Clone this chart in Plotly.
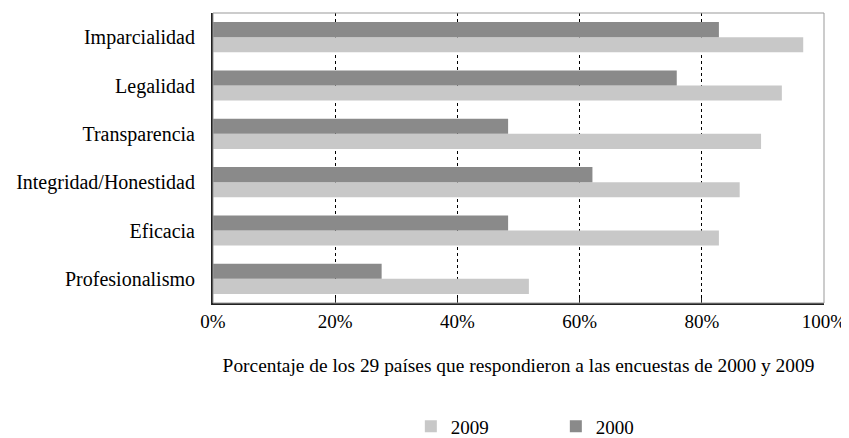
import plotly.graph_objects as go

# categories listed bottom -> top
categorias = ["Profesionalismo", "Eficacia", "Integridad/Honestidad",
              "Transparencia", "Legalidad", "Imparcialidad"]
valores_2009 = [51.7, 82.8, 86.2, 89.7, 93.1, 96.6]
valores_2000 = [27.6, 48.3, 62.1, 48.3, 75.9, 82.8]
ticks = [0, 20, 40, 60, 80, 100]
tick_labels = ["0%", "20%", "40%", "60%", "80%", "100%"]

serif = "Liberation Serif"
negro = "black"

fig = go.Figure()
fig.add_trace(go.Bar(y=categorias, x=valores_2009, orientation="h", name="2009",
                     marker=dict(color="#c8c8c8", line_width=0)))
fig.add_trace(go.Bar(y=categorias, x=valores_2000, orientation="h", name="2000",
                     marker=dict(color="#8a8a8a", line_width=0)))

# light frame on top/right
fig.add_shape(type="rect", xref="paper", yref="paper", x0=0, x1=1, y0=0, y1=1,
              line=dict(color="#999999", width=1), layer="above")

# page body has an 8px margin, so the figure is 8px smaller than the window
fig.update_layout(
    width=841, height=430,
    margin=dict(l=205, r=25, t=5, b=135),
    paper_bgcolor="white", plot_bgcolor="white",
    font=dict(family=serif, size=19, color=negro),
    barmode="group", bargap=0.375, bargroupgap=0,
    showlegend=True,
    legend=dict(orientation="h", xref="container", yref="container",
                x=0.479, xanchor="left", y=0.027, yanchor="middle",
                font=dict(family=serif, size=19, color=negro),
                itemwidth=30, traceorder="normal",
                entrywidthmode="pixels", entrywidth=100),
)
fig.update_xaxes(
    range=[0, 100], tickvals=ticks, ticktext=tick_labels, automargin=False,
    tickfont=dict(family=serif, size=19, color=negro),
    showgrid=True, gridcolor="black", griddash="dot", gridwidth=1,
    zeroline=False, showline=True, linecolor="#222222", linewidth=2,
    ticks="inside", ticklen=5, tickcolor="#222222",
    title=dict(text="Porcentaje de los 29 países que respondieron a las encuestas de 2000 y 2009",
               font=dict(family=serif, size=19.4, color=negro), standoff=28),
)
fig.update_yaxes(
    categoryorder="array", categoryarray=categorias, automargin=False,
    tickfont=dict(family=serif, size=20, color=negro),
    showgrid=False, showline=True, linecolor="#222222", linewidth=2,
    ticks="", ticklabelstandoff=12,
)

fig.write_html("out.html")
